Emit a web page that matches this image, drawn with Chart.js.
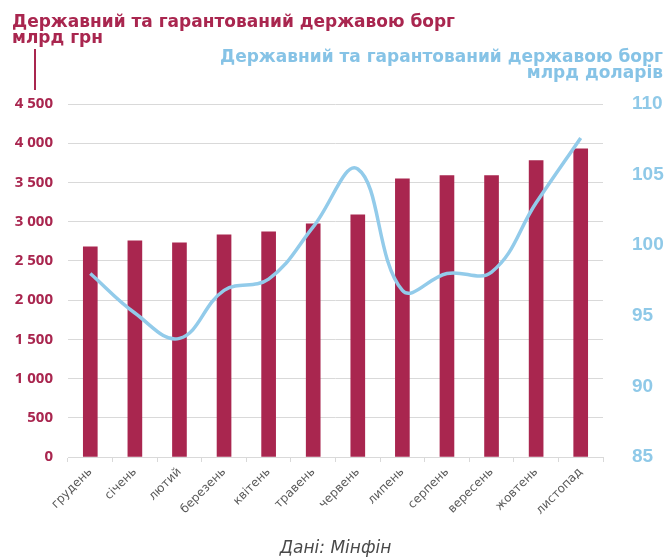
<!DOCTYPE html>
<html>
<head>
<meta charset="utf-8">
<script src="https://cdn.jsdelivr.net/npm/chart.js@4.4.0/dist/chart.umd.min.js"></script>
<style>
  body { margin: 0; background: #fff; }
  #wrap { position: relative; width: 671px; height: 558px; }
  #debtChart { position: absolute; left: 0; top: 0; }
  .title { position: absolute; font-family: "DejaVu Sans", sans-serif; font-weight: bold; font-size: 17px; line-height: 16px; white-space: nowrap; }
  #titleLeft { left: 12px; top: 13px; color: #a9264f; }
  #titleRight { right: 8px; top: 48px; color: #86c3e6; text-align: right; }
  #marker { position: absolute; left: 34px; top: 49px; width: 2px; height: 41px; background: #a9264f; }
  #source { position: absolute; left: 0; width: 671px; top: 537px; text-align: center; font-family: "DejaVu Sans", sans-serif; font-style: italic; font-size: 17px; color: #4a4a4a; }
</style>
</head>
<body>
<div id="wrap">
  <canvas id="debtChart" width="671" height="558"></canvas>
  <div class="title" id="titleLeft">Державний та гарантований державою борг<br>млрд грн</div>
  <div id="marker"></div>
  <div class="title" id="titleRight">Державний та гарантований державою борг<br>млрд доларів</div>
  <div id="source">Дані: Мінфін</div>
</div>
<script>
// months, Dec 2021 .. Nov 2022
const months = ["грудень", "січень", "лютий", "березень", "квітень", "травень",
                "червень", "липень", "серпень", "вересень", "жовтень", "листопад"];

// debt, bn UAH (left axis)
const debtUah = [2680, 2756, 2731, 2832, 2871, 2972, 3087, 3545, 3587, 3587, 3778, 3927];

// debt, bn USD (right axis)
const debtUsd = [98.0, 95.2, 93.4, 96.8, 97.6, 101.3, 105.4, 96.8, 98.0, 98.1, 103.0, 107.6];

const crimson = "#a9264f";
const skyBlue = "#92cbea";

function spacedThousands(v) {
    return String(v).replace(/\B(?=(\d{3})+(?!\d))/g, " ");
}

new Chart(document.getElementById("debtChart"), {
    type: "bar",
    data: {
        labels: months,
        datasets: [{
            type: "line",
            label: "млрд доларів",
            data: debtUsd,
            yAxisID: "y1",
            borderColor: skyBlue,
            borderWidth: 3.5,
            tension: 0.4,
            pointRadius: 0,
            fill: false,
            order: 0
        }, {
            type: "bar",
            label: "млрд грн",
            data: debtUah,
            yAxisID: "y",
            backgroundColor: crimson,
            barThickness: 14,
            order: 1
        }]
    },
    options: {
        responsive: false,
        animation: false,
        layout: {
            padding: { top: 104, left: 0, right: 0, bottom: 0 }
        },
        plugins: {
            legend: { display: false },
            tooltip: { enabled: false }
        },
        scales: {
            x: {
                afterFit: (s) => { s.height = 101; },
                grid: {
                    drawOnChartArea: false,
                    drawTicks: true,
                    tickLength: 5,
                    color: "#d9d9d9"
                },
                border: { color: "#d9d9d9" },
                ticks: {
                    minRotation: 45,
                    maxRotation: 45,
                    padding: 3,
                    color: "#595959",
                    font: { family: "DejaVu Sans", size: 12 }
                }
            },
            y: {
                position: "left",
                min: 0,
                max: 4500,
                afterFit: (s) => { s.width = 68; },
                grid: { color: "#d9d9d9", drawTicks: false },
                border: { display: false },
                ticks: {
                    stepSize: 500,
                    padding: 15,
                    color: crimson,
                    font: { family: "Open Sans", size: 15, weight: "bold" },
                    callback: (v) => spacedThousands(v)
                }
            },
            y1: {
                position: "right",
                min: 85,
                max: 110,
                afterFit: (s) => { s.width = 68; },
                grid: { display: false, drawTicks: false },
                border: { display: false },
                ticks: {
                    stepSize: 5,
                    padding: 29,
                    color: "#8fc9e8",
                    font: { family: "'Liberation Sans'", size: 19, weight: "bold" }
                }
            }
        }
    }
});
</script>
</body>
</html>
